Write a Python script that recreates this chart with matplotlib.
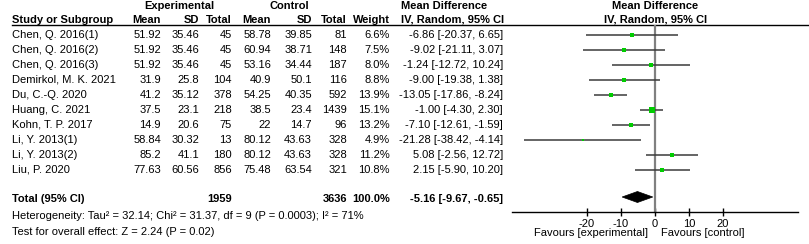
import matplotlib
matplotlib.use("Agg")
import matplotlib.pyplot as plt
from matplotlib.patches import Polygon
import numpy as np

plt.rcParams['font.family'] = ['Liberation Sans', 'DejaVu Sans']
plt.rcParams['axes.unicode_minus'] = False

studies = ["Chen, Q. 2016(1)", "Chen, Q. 2016(2)", "Chen, Q. 2016(3)", "Demirkol, M. K. 2021",
           "Du, C.-Q. 2020", "Huang, C. 2021", "Kohn, T. P. 2017", "Li, Y. 2013(1)",
           "Li, Y. 2013(2)", "Liu, P. 2020"]
exp_mean = [51.92, 51.92, 51.92, 31.9, 41.2, 37.5, 14.9, 58.84, 85.2, 77.63]
exp_sd = [35.46, 35.46, 35.46, 25.8, 35.12, 23.1, 20.6, 30.32, 41.1, 60.56]
exp_n = [45, 45, 45, 104, 378, 218, 75, 13, 180, 856]
ctl_mean = [58.78, 60.94, 53.16, 40.9, 54.25, 38.5, 22, 80.12, 80.12, 75.48]
ctl_sd = [39.85, 38.71, 34.44, 50.1, 40.35, 23.4, 14.7, 43.63, 43.63, 63.54]
ctl_n = [81, 148, 187, 116, 592, 1439, 96, 328, 328, 321]
weight = [6.6, 7.5, 8.0, 8.8, 13.9, 15.1, 13.2, 4.9, 11.2, 10.8]
md = [-6.86, -9.02, -1.24, -9.00, -13.05, -1.00, -7.10, -21.28, 5.08, 2.15]
lo = [-20.37, -21.11, -12.72, -19.38, -17.86, -4.30, -12.61, -38.42, -2.56, -5.90]
hi = [6.65, 3.07, 10.24, 1.38, -8.24, 2.30, -1.59, -4.14, 12.72, 10.20]
total_exp_n = 1959
total_ctl_n = 3636
total_weight = 100.0
total_md, total_lo, total_hi = -5.16, -9.67, -0.65
heterogeneity = "Heterogeneity: Tau\u00b2 = 32.14; Chi\u00b2 = 31.37, df = 9 (P = 0.0003); I\u00b2 = 71%"
overall = "Test for overall effect: Z = 2.24 (P = 0.02)"
xticks = [-20, -10, 0, 10, 20]

W, H = 809, 244
fig = plt.figure(figsize=(W / 100, H / 100), dpi=100)
fig.patch.set_facecolor('white')

tx = fig.add_axes([0, 0, 1, 1])
tx.set_xlim(0, W)
tx.set_ylim(H, 0)
tx.axis('off')

FS = 8
row_y = [34.5 + 15.05 * i for i in range(len(studies))]
y_total = 199
col_right = {'em': 161, 'es': 199, 'en': 232, 'cm': 271, 'cs': 312, 'cn': 347, 'w': 390, 'ci': 503}


def t(x, y, s, ha='left', bold=False, fs=FS):
    tx.text(x, y, s, ha=ha, va='center', fontsize=fs,
            fontweight='bold' if bold else 'normal', color='black')


# headers
t(179, 6, "Experimental", ha='center', bold=True)
t(289, 6, "Control", ha='center', bold=True)
t(401, 6, "Mean Difference", bold=True)
t(655, 6, "Mean Difference", ha='center', bold=True)
t(12, 20, "Study or Subgroup", bold=True)
for key, lab in [('em', 'Mean'), ('es', 'SD'), ('en', 'Total'), ('cm', 'Mean'),
                 ('cs', 'SD'), ('cn', 'Total'), ('w', 'Weight')]:
    t(col_right[key], 20, lab, ha='right', bold=True)
t(401, 20, "IV, Random, 95% CI", bold=True)
t(656, 20, "IV, Random, 95% CI", ha='center', bold=True)
tx.plot([12, W], [25, 25], color='black', lw=1)

for i, y in enumerate(row_y):
    t(12, y, studies[i])
    t(col_right['em'], y, f"{exp_mean[i]:g}", ha='right')
    t(col_right['es'], y, f"{exp_sd[i]:g}", ha='right')
    t(col_right['en'], y, f"{exp_n[i]}", ha='right')
    t(col_right['cm'], y, f"{ctl_mean[i]:g}", ha='right')
    t(col_right['cs'], y, f"{ctl_sd[i]:g}", ha='right')
    t(col_right['cn'], y, f"{ctl_n[i]}", ha='right')
    t(col_right['w'], y, f"{weight[i]:.1f}%", ha='right')
    t(col_right['ci'], y, f"{md[i]:.2f} [{lo[i]:.2f}, {hi[i]:.2f}]", ha='right')

t(12, y_total, "Total (95% CI)", bold=True)
t(col_right['en'], y_total, f"{total_exp_n}", ha='right', bold=True)
t(col_right['cn'], y_total, f"{total_ctl_n}", ha='right', bold=True)
t(col_right['w'], y_total, f"{total_weight:.1f}%", ha='right', bold=True)
t(col_right['ci'], y_total, f"{total_md:.2f} [{total_lo:.2f}, {total_hi:.2f}]", ha='right', bold=True)
t(12, 216, heterogeneity)
t(12, 232, overall)

# forest plot axes
x0, x1 = 512, 798
fx = fig.add_axes([x0 / W, 0, (x1 - x0) / W, 1])
fx.patch.set_alpha(0)
scale = 3.4
zero_px = 655
fx.set_xlim((x0 - zero_px) / scale, (x1 - zero_px) / scale)
fx.set_ylim(H, 0)
for s in ['top', 'left', 'right']:
    fx.spines[s].set_visible(False)
fx.spines['bottom'].set_position(('data', 212))
fx.spines['bottom'].set_linewidth(1)
fx.set_yticks([])
fx.set_xticks(xticks)
fx.set_xticklabels([str(v) for v in xticks])
fx.tick_params(axis='x', direction='inout', length=6, width=1, labelsize=FS, pad=2)

fx.vlines(0, 25, 212, color='#808080', lw=1.6, zorder=2)
for i, y in enumerate(row_y):
    fx.plot([lo[i], hi[i]], [y, y], color='#3a3a3a', lw=1.1, zorder=3, solid_capstyle='butt')
    side_px = 1.3 * np.sqrt(weight[i])
    fx.plot(md[i], y, marker='s', ms=side_px * 0.72, color='#00cc00', mec='#00cc00', mew=0, zorder=4)

hh = 5.5
fx.add_patch(Polygon([[total_lo, y_total - 2], [total_md, y_total - 2 - hh],
                      [total_hi, y_total - 2], [total_md, y_total - 2 + hh]],
                     closed=True, facecolor='black', edgecolor='black', lw=0.5, zorder=5))

t(648, 233, "Favours [experimental]", ha='right')
t(661, 233, "Favours [control]", ha='left')

fig.savefig("out.png", dpi=100, facecolor='white')
